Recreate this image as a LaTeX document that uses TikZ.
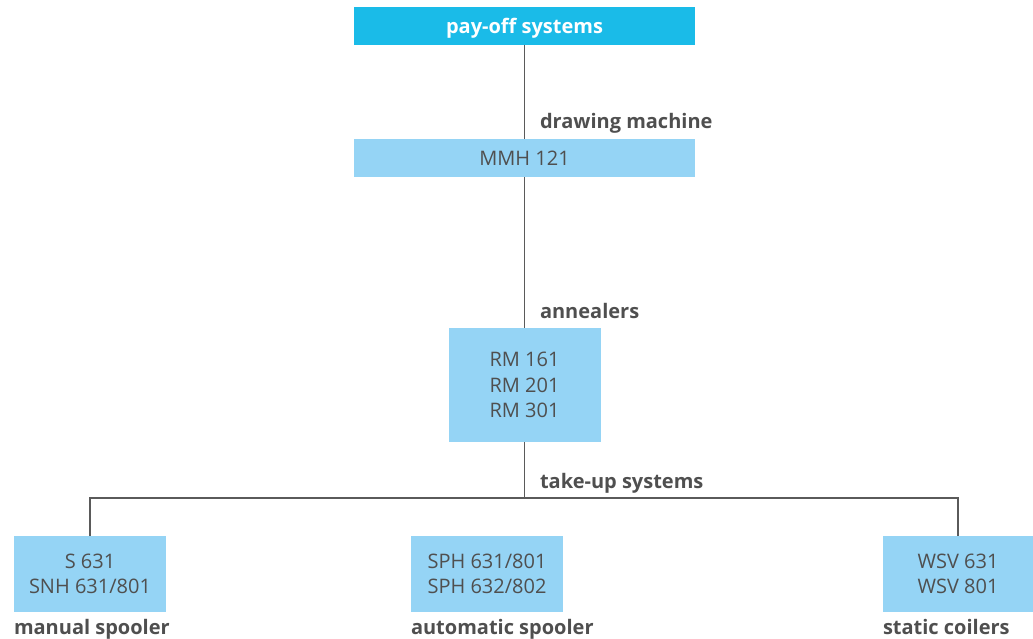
\documentclass[tikz,border=0pt]{standalone}
\usepackage{fontspec}
\setmainfont{Open Sans}
\definecolor{headblue}{HTML}{1ABBE8}
\definecolor{boxblue}{HTML}{95D4F5}
\definecolor{txtgray}{HTML}{4F4F4F}
\definecolor{linegray}{HTML}{5A5A5A}
\begin{document}
\begin{tikzpicture}[x=1pt,y=-1pt,
  every node/.style={inner sep=0pt, outer sep=0pt},
  head/.style={fill=headblue, text=white, font=\fontsize{20}{25}\selectfont\bfseries, align=center, text height=14pt, text depth=0pt},
  unit/.style={fill=boxblue, text=txtgray, font=\fontsize{20}{25.5}\selectfont, align=center},
  caption/.style={text=txtgray, font=\fontsize{20}{25}\selectfont\bfseries, anchor=base west},
  link/.style={draw=linegray, line width=1.2pt}]
\useasboundingbox (0,0) rectangle (1033,638);

% boxes
\node[head, minimum width=341, minimum height=38] (pay) at (524.5,26) {pay-off systems};
\node[unit, minimum width=341, minimum height=38] (mmh) at (524.5,158) {MMH 121};
\node[unit, minimum width=152, minimum height=114] (rm) at (524.5,385) {RM 161\\RM 201\\RM 301};
\node[unit, minimum width=152, minimum height=76] (s) at (90,574) {S 631\\SNH 631/801};
\node[unit, minimum width=152, minimum height=76] (sph) at (487,574) {SPH 631/801\\SPH 632/802};
\node[unit, minimum width=150, minimum height=76] (wsv) at (958,574) {WSV 631\\WSV 801};

% section captions
\node[caption] (capdraw) at (540,128) {drawing machine};
\node[caption] (capann) at (540,318) {annealers};
\node[caption] (captake) at (540,488) {take-up systems};
\node[caption] (capman) at (14,634) {manual spooler};
\node[caption] (capauto) at (411,634) {automatic spooler};
\node[caption] (capstat) at (883,634) {static coilers};

% connectors
\coordinate (bus) at (524.5,498);
\draw[link] (pay.south) -- (mmh.north);
\draw[link] (mmh.south) -- (rm.north);
\draw[link] (rm.south) -- (bus);
\draw[link] (s.north) |- (bus) -| (wsv.north);
\end{tikzpicture}
\end{document}
